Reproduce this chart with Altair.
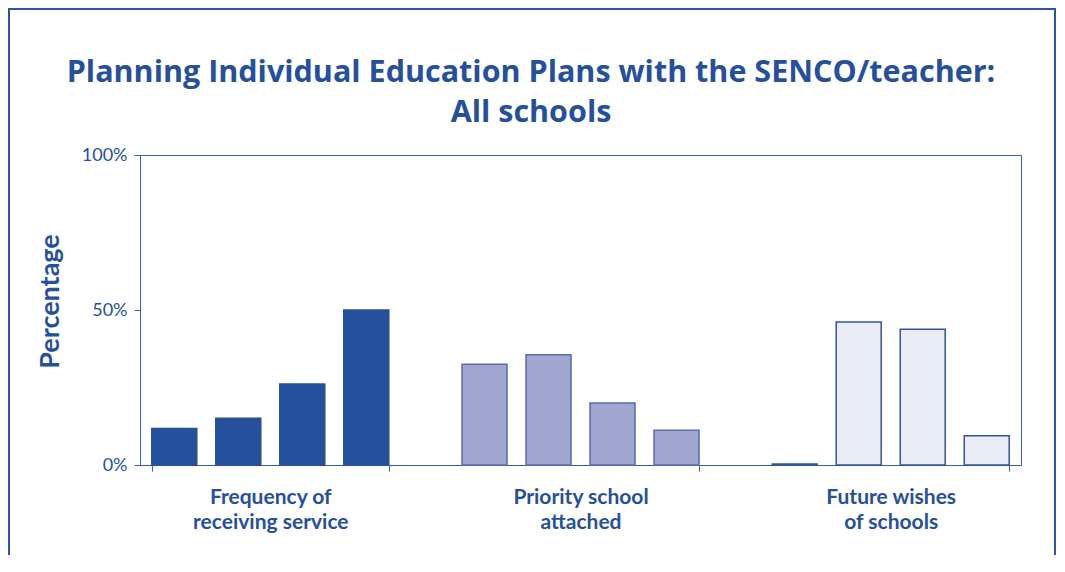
import altair as alt
import pandas as pd

title_lines = ["Planning Individual Education Plans with the SENCO/teacher:", "All schools"]
groups = ["Frequency of|receiving service", "Priority school|attached", "Future wishes|of schools"]
slots = ["1", "2", "3", "4"]
freq_values = [11.8, 15.1, 26.1, 50.0]
priority_values = [32.5, 35.6, 20.0, 11.2]
future_values = [0.3, 46.1, 43.8, 9.4]

fills = ["#26509c", "#a2a5cf", "#ececf6"]
strokes = ["#26509c", "#5470b0", "#2f55a0"]
BLUE = "#26509c"
LINE = "#3a5ea8"
FONT = "Lato"

rows = []
for g, vals in zip(groups, [freq_values, priority_values, future_values]):
    for s, v in zip(slots, vals):
        rows.append({"group": g, "slot": s, "value": v})
df = pd.DataFrame(rows)

bars = alt.Chart(df).mark_bar(strokeWidth=1.5).encode(
    x=alt.X("group:N", sort=groups,
            scale=alt.Scale(paddingInner=0.236, paddingOuter=0.038),
            axis=alt.Axis(title=None, labelAngle=0, tickBand="extent",
                          labelExpr="split(datum.label, '|')",
                          labelFont=FONT, labelFontSize=21, labelFontWeight="bold",
                          labelColor=BLUE, labelLineHeight=25, labelPadding=15,
                          tickSize=6, tickColor=LINE, domainColor=LINE)),
    xOffset=alt.XOffset("slot:N", sort=slots,
                        scale=alt.Scale(paddingInner=0.297, paddingOuter=0)),
    y=alt.Y("value:Q", scale=alt.Scale(domain=[0, 100], nice=False),
            axis=alt.Axis(title="Percentage", values=[0, 50, 100],
                          labelExpr="datum.value + '%'", grid=False,
                          labelFont=FONT, labelFontSize=18, labelColor=BLUE,
                          labelPadding=7, tickSize=6, tickColor=LINE,
                          domainColor=LINE,
                          titleFont=FONT, titleFontSize=27, titleFontWeight="bold",
                          titleColor=BLUE, titlePadding=17, titleY=146)),
    fill=alt.Fill("group:N", scale=alt.Scale(domain=groups, range=fills), legend=None),
    stroke=alt.Stroke("group:N", scale=alt.Scale(domain=groups, range=strokes), legend=None),
)

frame = alt.Chart(alt.Data(values=[{}])).mark_rect(
    fillOpacity=0, stroke="#2f55a0", strokeWidth=2
).encode(
    x=alt.value(-131), x2=alt.value(915), y=alt.value(-146), y2=alt.value(440)
)

title = alt.Chart(alt.Data(values=[{}])).mark_text(
    font="Open Sans", fontSize=30.5, fontWeight="bold", color=BLUE,
    lineHeight=40, align="center", baseline="middle"
).encode(
    text=alt.value(title_lines), x=alt.value(391), y=alt.value(-82)
)

chart = alt.layer(frame, bars, title).properties(
    width=881, height=310,
    background="white",
    autosize=alt.AutoSizeParams(type="none"),
    padding={"left": 132, "top": 147, "right": 35, "bottom": 90},
).configure_view(stroke=LINE, strokeWidth=1)

chart.save("out.html", embed_options={"renderer": "svg", "actions": False})
